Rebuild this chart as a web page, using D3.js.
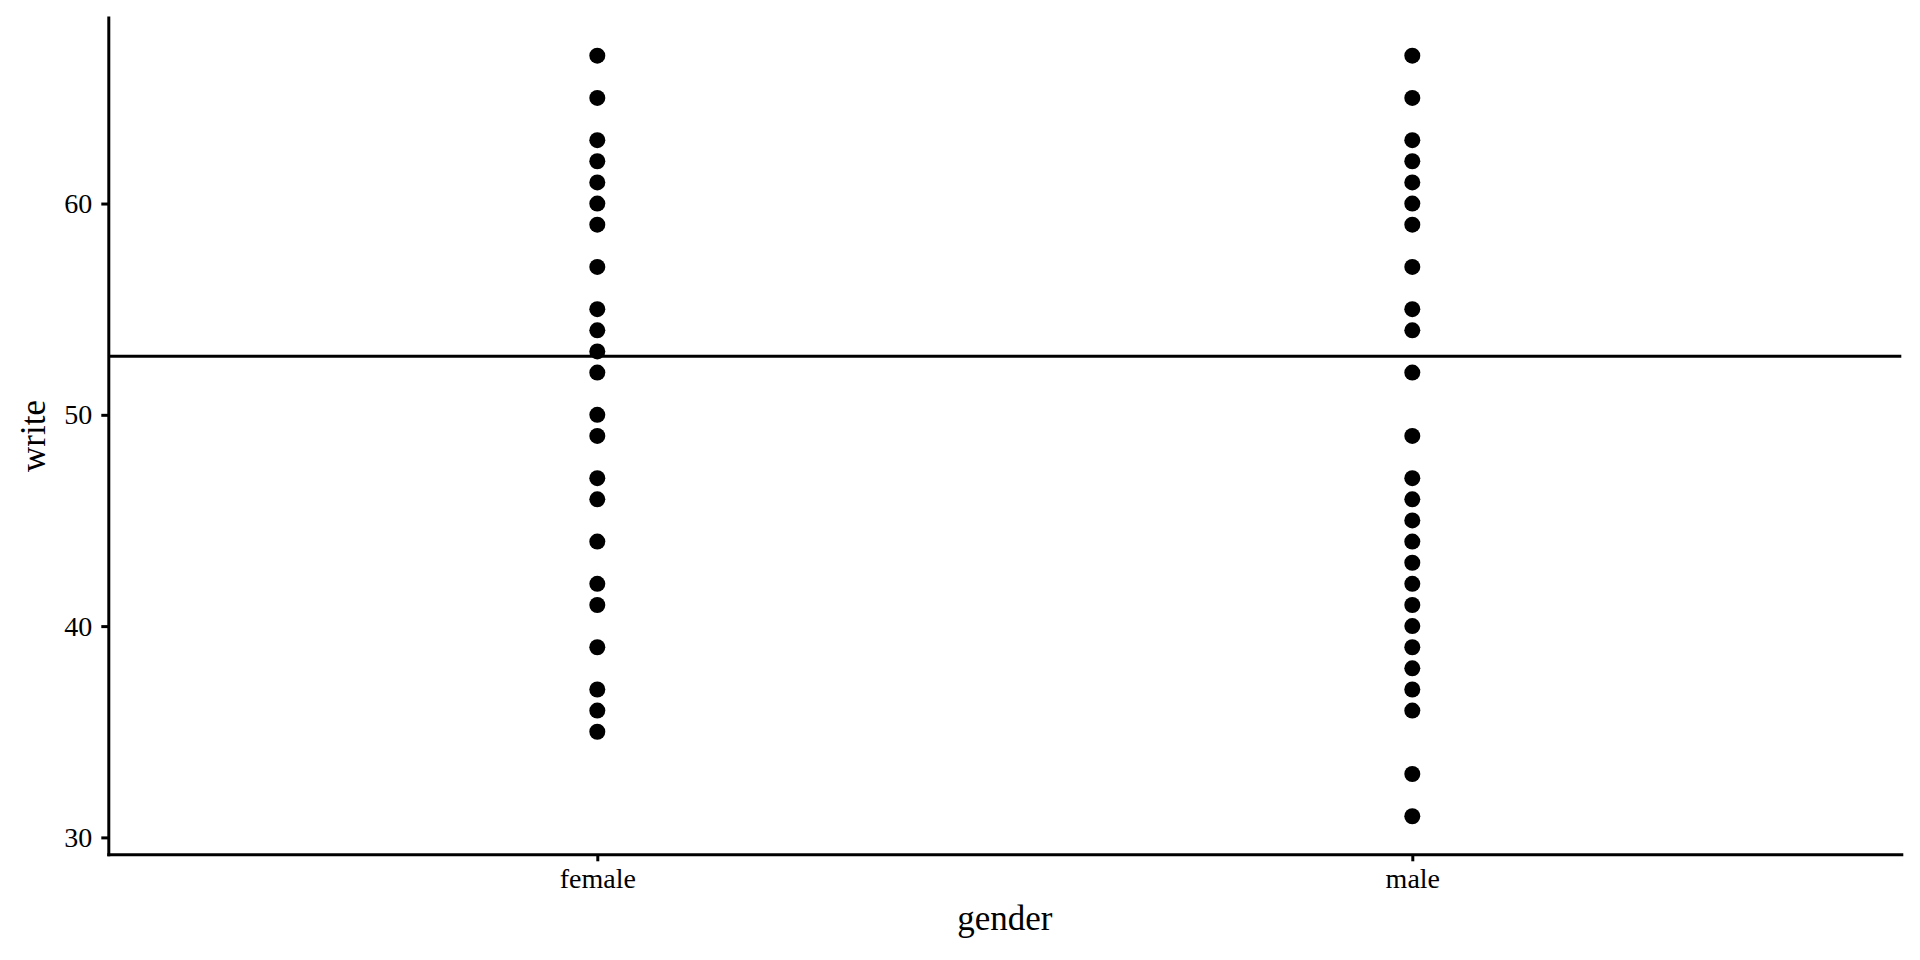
<!DOCTYPE html>
<html>
<head>
<meta charset="utf-8">
<script src="https://cdn.jsdelivr.net/npm/d3@7"></script>
<style>
  html, body { margin: 0; padding: 0; background: #fff; }
  svg { display: block; font-family: "Liberation Serif", "Times New Roman", serif; }
</style>
</head>
<body>
<svg id="chart" width="1920" height="960"></svg>
<script>
const categories = ["female", "male"];
const femaleWrite = [67, 65, 63, 62, 61, 60, 59, 57, 55, 54, 53, 52, 50, 49, 47, 46, 44, 42, 41, 39, 37, 36, 35];
const maleWrite = [67, 65, 63, 62, 61, 60, 59, 57, 55, 54, 52, 49, 47, 46, 45, 44, 43, 42, 41, 40, 39, 38, 37, 36, 33, 31];
const meanWrite = 52.775;
const yTicks = [30, 40, 50, 60];
const xTitle = "gender";
const yTitle = "write";

(function () {
const points = [
  ...femaleWrite.map(v => ({ g: "female", v })),
  ...maleWrite.map(v => ({ g: "male", v }))
];

const svg = d3.select("#chart");
const pLeft = 108.3, pRight = 1901.3, pTop = 17.6, pBottom = 854.3;

const ext = d3.extent(points, d => d.v);
const pad = (ext[1] - ext[0]) * 0.05;
const y = d3.scaleLinear().domain([ext[0] - pad, ext[1] + pad]).range([pBottom, pTop]);
const x = d3.scalePoint().domain(categories).range([pLeft, pRight]).padding(0.6);

// mean line
svg.append("line")
  .attr("x1", pLeft).attr("x2", pRight)
  .attr("y1", y(meanWrite)).attr("y2", y(meanWrite))
  .attr("stroke", "#000").attr("stroke-width", 3);

// points
svg.append("g").selectAll("circle").data(points).join("circle")
  .attr("cx", d => x(d.g))
  .attr("cy", d => y(d.v))
  .attr("r", 8)
  .attr("fill", "#000");

// axes
const yAxis = svg.append("g")
  .attr("transform", `translate(${pLeft},0)`)
  .call(d3.axisLeft(y).tickValues(yTicks).tickSize(7).tickSizeOuter(0).tickPadding(9));
const xAxis = svg.append("g")
  .attr("transform", `translate(0,${pBottom})`)
  .call(d3.axisBottom(x).tickSize(7).tickSizeOuter(0).tickPadding(7));

[yAxis, xAxis].forEach(a => {
  a.select(".domain").attr("stroke", "#000").attr("stroke-width", 3).attr("stroke-linecap", "square");
  a.selectAll(".tick line").attr("stroke", "#000").attr("stroke-width", 3);
  a.selectAll(".tick text").attr("fill", "#000")
    .style("font-family", '"Liberation Serif", "Times New Roman", serif')
    .style("font-size", "28px");
});

// titles
svg.append("text")
  .attr("x", (pLeft + pRight) / 2).attr("y", 930)
  .attr("text-anchor", "middle")
  .style("font-size", "35px").attr("fill", "#000")
  .text(xTitle);

svg.append("text")
  .attr("transform", `translate(45,${(pTop + pBottom) / 2}) rotate(-90)`)
  .attr("text-anchor", "middle")
  .style("font-size", "35px").attr("fill", "#000")
  .text(yTitle);
})();
</script>
</body>
</html>
